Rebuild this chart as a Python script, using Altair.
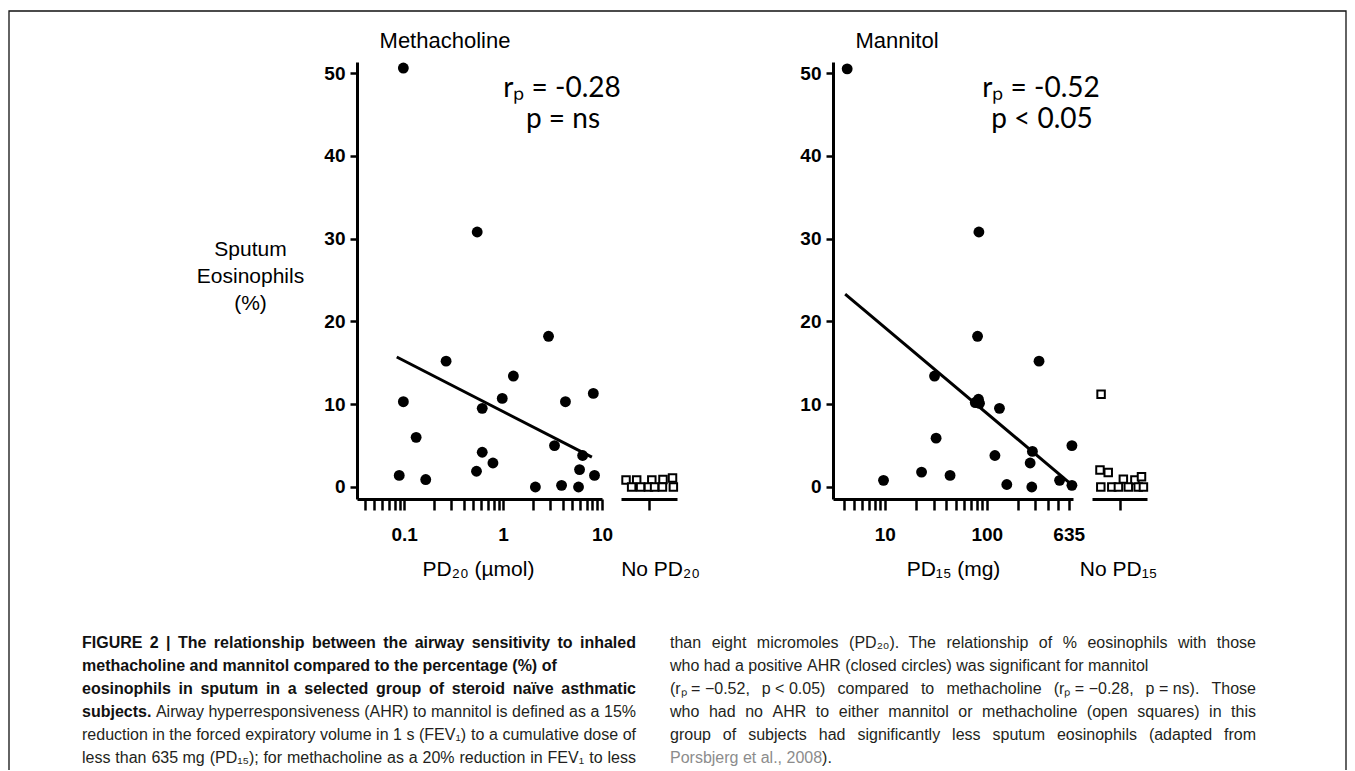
import altair as alt
import pandas as pd

# ---------------- data ----------------
# Methacholine panel (closed circles): PD20 (umol) vs sputum eosinophils (%)
meth_pd20 = [0.098, 0.547, 0.089, 0.098, 0.132, 0.165, 0.265, 0.538, 0.615, 0.615,
             0.789, 0.98, 1.27, 2.12, 2.88, 3.31, 3.90, 4.27, 5.79, 5.93, 6.37, 8.17, 8.4]
meth_eos = [50.6, 30.8, 1.4, 10.3, 6.0, 0.9, 15.2, 1.9, 9.5, 4.2,
            2.9, 10.7, 13.4, 0.0, 18.2, 5.0, 0.2, 10.3, 0.0, 2.1, 3.8, 11.3, 1.4]
meth_fit_pd20 = [0.084, 7.9]
meth_fit_eos = [15.7, 3.6]
# "No PD20" group (open squares): spread within the group, eosinophils (%)
meth_none_spread = [-0.82, -0.44, 0.1, 0.5, 0.84, -0.62, -0.3, -0.02, 0.2, 0.48, 0.87]
meth_none_eos = [0.85, 0.85, 0.85, 0.9, 1.1, 0, 0, 0, 0, 0, 0]

# Mannitol panel (closed circles): PD15 (mg) vs sputum eosinophils (%)
mann_pd15 = [4.27, 83.6, 9.7, 22.9, 30.7, 31.8, 43.6, 81.1, 77, 82.8, 84.8,
             120, 133, 157, 266, 276, 280, 325, 517, 683, 683]
mann_eos = [50.5, 30.8, 0.8, 1.8, 13.4, 5.9, 1.4, 18.2, 10.2, 10.6, 10.1,
            3.8, 9.5, 0.3, 2.9, 0.0, 4.3, 15.2, 0.8, 5.0, 0.2]
mann_fit_pd15 = [4.08, 647]
mann_fit_eos = [23.3, 0.5]
mann_none_spread = [-0.67, -0.71, -0.41, 0.14, 0.56, 0.8, -0.68, -0.28, -0.04, 0.32, 0.68, 0.87]
mann_none_eos = [11.2, 2.05, 1.75, 0.95, 0.85, 1.25, 0, 0, 0, 0, 0, 0]

# axes
y_ticks = [0, 10, 20, 30, 40, 50]
meth_ticks = [0.04, 0.05, 0.06, 0.07, 0.08, 0.09, 0.1, 0.2, 0.3, 0.4, 0.5, 0.6, 0.7,
              0.8, 0.9, 1, 2, 3, 4, 5, 6, 7, 8, 9, 10]
meth_label_values = [0.1, 1, 10]
meth_label_texts = ["0.1", "1", "10"]
mann_ticks = [4, 5, 6, 7, 8, 9, 10, 20, 30, 40, 50, 60, 70, 80, 90, 100, 200, 300, 400, 500, 635]
mann_label_values = [10, 100, 635]
mann_label_texts = ["10", "100", "635"]

# texts
panel_titles = ["Methacholine", "Mannitol"]
stats_meth = ["rₚ = -0.28", "p = ns"]
stats_mann = ["rₚ = -0.52", "p < 0.05"]
y_title = ["Sputum", "Eosinophils", "(%)"]
x_titles = ["PD₂₀ (µmol)", "No PD₂₀", "PD₁₅ (mg)", "No PD₁₅"]

NB = "\u00a0"  # non-breaking space keeps short expressions together
# caption: each line is a list of (weight, colour-role, text) runs, plus a justify flag
caption_left = [
    ([("bold", "strong", "FIGURE 2 | The relationship between the airway sensitivity to inhaled")], True),
    ([("bold", "strong", "methacholine and mannitol compared to the percentage (%) of")], False),
    ([("bold", "strong", "eosinophils in sputum in a selected group of steroid naïve asthmatic")], True),
    ([("bold", "strong", "subjects."),
      ("normal", "body", "Airway hyperresponsiveness (AHR) to mannitol is defined as a 15%")], True),
    ([("normal", "body", "reduction in the forced expiratory volume in 1" + NB + "s (FEV₁) to a cumulative dose of")], True),
    ([("normal", "body", "less than 635" + NB + "mg (PD₁₅); for methacholine as a 20% reduction in FEV₁ to less")], True),
]
caption_right = [
    ([("normal", "body", "than eight micromoles (PD₂₀). The relationship of % eosinophils with those")], True),
    ([("normal", "body", "who had a positive AHR (closed circles) was significant for mannitol")], False),
    ([("normal", "body", f"(rₚ{NB}={NB}−0.52, p{NB}<{NB}0.05) compared to methacholine "
                         f"(rₚ{NB}={NB}−0.28, p{NB}={NB}ns). Those")], True),
    ([("normal", "body", "who had no AHR to either mannitol or methacholine (open squares) in this")], True),
    ([("normal", "body", "group of subjects had significantly less sputum eosinophils (adapted from")], True),
    ([("normal", "link", "Porsbjerg et al., 2008"), ("normal", "body", ").")], False),
]

# ---------------- layout (pixels) ----------------
PAD_L = 349
W = 990
H = 491
PAD_B = 271
Y_DOMAIN = [-1.45, 51.33]
Y_RANGE = [491, 54]
L_DOMAIN = [0.0333, 10]
L_RANGE = [0, 245]
NL_RANGE = [264, 320]
R_DOMAIN = [3.1, 700]
R_RANGE = [476, 716]
NR_RANGE = [735, 790]
N_DOMAIN = [-1, 1]

FONT = "Liberation Sans"
CAP_SIZE = 16
LEFT_X, LEFT_END = -275, 279
RIGHT_X, RIGHT_END = 313, 899
BASE_Y, STEP = 640, 23
COLORS = {"strong": "#111111", "body": "#231f20", "link": "#8c8c8c"}

# Arial / Liberation Sans advance widths (1/1000 em) used to lay out justified caption lines
REG = {' ': 278, NB: 278, '%': 889, '(': 333, ')': 333, ',': 278, '-': 333, '.': 278, ':': 278,
       ';': 278, '<': 584, '=': 584, '>': 584, '|': 260, '−': 584, 'µ': 556, 'ï': 278,
       'A': 667, 'B': 667, 'C': 722, 'D': 722, 'E': 667, 'F': 611, 'G': 778, 'H': 722, 'I': 278,
       'J': 500, 'K': 667, 'L': 556, 'M': 833, 'N': 722, 'O': 778, 'P': 667, 'Q': 778, 'R': 722,
       'S': 667, 'T': 611, 'U': 722, 'V': 667, 'W': 944, 'X': 667, 'Y': 667, 'Z': 611,
       'a': 556, 'b': 556, 'c': 500, 'd': 556, 'e': 556, 'f': 278, 'g': 556, 'h': 556, 'i': 222,
       'j': 222, 'k': 500, 'l': 222, 'm': 833, 'n': 556, 'o': 556, 'p': 556, 'q': 556, 'r': 333,
       's': 500, 't': 278, 'u': 556, 'v': 500, 'w': 722, 'x': 500, 'y': 500, 'z': 500}
BOLD = {' ': 278, NB: 278, '%': 889, '(': 333, ')': 333, ',': 278, '.': 278, '|': 280, '-': 333,
        'ï': 278,
        'A': 722, 'B': 722, 'C': 722, 'D': 722, 'E': 667, 'F': 611, 'G': 778, 'H': 722, 'I': 278,
        'J': 556, 'K': 722, 'L': 611, 'M': 833, 'N': 722, 'O': 778, 'P': 667, 'Q': 778, 'R': 722,
        'S': 667, 'T': 611, 'U': 722, 'V': 667, 'W': 944, 'X': 667, 'Y': 667, 'Z': 611,
        'a': 556, 'b': 611, 'c': 556, 'd': 611, 'e': 556, 'f': 333, 'g': 611, 'h': 611, 'i': 278,
        'j': 278, 'k': 556, 'l': 278, 'm': 889, 'n': 611, 'o': 611, 'p': 611, 'q': 611, 'r': 389,
        's': 556, 't': 333, 'u': 611, 'v': 556, 'w': 778, 'x': 556, 'y': 556, 'z': 500}
SUBS = "₀₁₂₃₄₅₆₇₈₉ₚ"


def text_width(s, weight, size):
    table = BOLD if weight == "bold" else REG
    total = 0
    for ch in s:
        if ch in SUBS:
            total += 360
        elif ch.isdigit():
            total += 556
        else:
            total += table.get(ch, 556)
    return total * size / 1000.0


def layout_lines(lines, x0, x_end, y0):
    rows = []
    for i, (runs, justify) in enumerate(lines):
        words = []
        for weight, role, txt in runs:
            for w in txt.split(" "):
                words.append((weight, role, w))
        widths = [text_width(w, wt, CAP_SIZE) for wt, _, w in words]
        space = text_width(" ", "normal", CAP_SIZE)
        if justify and len(words) > 1:
            gap = (x_end - x0 - sum(widths)) / (len(words) - 1)
        else:
            gap = space
        x = x0
        for k, ((wt, role, w), wd) in enumerate(zip(words, widths)):
            rows.append({"word": w, "px": x, "py": y0 + i * STEP, "weight": wt, "role": role})
            x += wd
            # runs glued together with no space (the closing ")." after the reference)
            if k + 1 < len(words) and words[k + 1][2].startswith(")") and words[k + 1][1] != role:
                continue
            x += gap
    return rows


def label_expr(vals, texts):
    parts = [f"datum.value == {v} ? '{t}'" for v, t in zip(vals, texts)]
    return " : ".join(parts) + " : ''"


yscale = alt.Scale(domain=Y_DOMAIN, range=Y_RANGE, nice=False, zero=False)

common_x_axis = dict(tickSize=11, tickWidth=2.5, domainWidth=3, labelFontSize=19,
                     labelFontWeight="bold", labelPadding=15, titleFontSize=21,
                     titleFontWeight="normal", titleY=76, titleBaseline="alphabetic",
                     titleAlign="center", orient="bottom", grid=False)


def y_axis(offset, title):
    kw = dict(values=y_ticks, tickSize=7, tickWidth=2.5, domainWidth=3, labelFontSize=19,
              labelFontWeight="bold", labelPadding=5, orient="left", offset=offset,
              grid=False)
    if title:
        kw.update(title=title, titleAngle=0, titleX=-107, titleY=247, titleAlign="center",
                  titleBaseline="alphabetic", titleFontSize=21, titleFontWeight="normal",
                  titleLineHeight=27)
    else:
        kw.update(title="")
    return alt.Axis(**kw)


def panel(xs, ys, fit_x, fit_y, none_x, none_y, dom, rng, nrng, ticks, lvals, ltexts,
          xtitle, ntitle, ntitle_x, ytitle, yoffset, xtitle_x):
    pts = pd.DataFrame({"dose": xs, "eos": ys})
    fit = pd.DataFrame({"dose": fit_x, "eos": fit_y})
    none = pd.DataFrame({"spread": none_x, "eos": none_y})
    xscale = alt.Scale(type="log", domain=dom, range=rng, nice=False)
    circles = alt.Chart(pts).mark_circle(size=118, color="black", opacity=1).encode(
        x=alt.X("dose:Q", scale=xscale,
                axis=alt.Axis(values=ticks, labelExpr=label_expr(lvals, ltexts),
                              title=xtitle, titleX=xtitle_x, **common_x_axis)),
        y=alt.Y("eos:Q", scale=yscale, axis=y_axis(yoffset, ytitle)),
    )
    line = alt.Chart(fit).mark_line(color="black", strokeWidth=3).encode(
        x=alt.X("dose:Q", scale=xscale, axis=None),
        y=alt.Y("eos:Q", scale=yscale, axis=None),
    )
    squares = alt.Chart(none).mark_point(shape="square", size=56, filled=True, fill="white",
                                         stroke="black", strokeWidth=2, opacity=1).encode(
        x=alt.X("spread:Q", scale=alt.Scale(domain=N_DOMAIN, range=nrng, nice=False, zero=False),
                axis=alt.Axis(values=[0], labels=False, title=ntitle, titleX=ntitle_x,
                              **common_x_axis)),
        y=alt.Y("eos:Q", scale=yscale, axis=None),
    )
    return [circles, line, squares]


def text_at(txt, x, y, size, font=FONT, weight="normal", color="black", align="center"):
    return alt.Chart(pd.DataFrame({"t": [txt]})).mark_text(
        font=font, fontSize=size, fontWeight=weight, color=color, align=align,
        baseline="alphabetic").encode(x=alt.value(x), y=alt.value(y), text="t:N")


layers = []
border = alt.Chart(pd.DataFrame({"a": [0]})).mark_rect(
    fillOpacity=0, stroke="#111111", strokeWidth=1.3).encode(
    x=alt.value(-348), x2=alt.value(989), y=alt.value(3), y2=alt.value(800))
layers.append(border)

layers += panel(meth_pd20, meth_eos, meth_fit_pd20, meth_fit_eos, meth_none_spread, meth_none_eos,
                L_DOMAIN, L_RANGE, NL_RANGE, meth_ticks, meth_label_values, meth_label_texts,
                x_titles[0], x_titles[1], 303, y_title, 0, 121)
layers += panel(mann_pd15, mann_eos, mann_fit_pd15, mann_fit_eos, mann_none_spread, mann_none_eos,
                R_DOMAIN, R_RANGE, NR_RANGE, mann_ticks, mann_label_values, mann_label_texts,
                x_titles[2], x_titles[3], 761, None, -476, 596)

# panel titles
layers.append(text_at(panel_titles[0], 88, 40, 22))
layers.append(text_at(panel_titles[1], 540, 40, 22))
# statistics
layers.append(text_at(stats_meth[0], 205, 89, 28, font="Lato"))
layers.append(text_at(stats_meth[1], 206, 120, 28, font="Lato"))
layers.append(text_at(stats_mann[0], 684, 89, 28, font="Lato"))
layers.append(text_at(stats_mann[1], 685, 120, 28, font="Lato"))

# caption (word-by-word, justified like the journal layout)
cap_rows = layout_lines(caption_left, LEFT_X, LEFT_END, BASE_Y) + \
    layout_lines(caption_right, RIGHT_X, RIGHT_END, BASE_Y)
cap = pd.DataFrame(cap_rows)
for (weight, role), grp in cap.groupby(["weight", "role"]):
    layers.append(
        alt.Chart(grp).mark_text(font=FONT, fontSize=CAP_SIZE, fontWeight=weight,
                                 color=COLORS[role], align="left", baseline="alphabetic").encode(
            x=alt.X("px:Q", scale=None, axis=None),
            y=alt.Y("py:Q", scale=None, axis=None),
            text="word:N")
    )

chart = alt.layer(*layers).resolve_scale(x="independent", y="independent").properties(
    width=W, height=H,
    padding={"left": PAD_L, "top": 0, "right": 0, "bottom": PAD_B},
    autosize=alt.AutoSizeParams(type="none"),
    background="white",
).configure_view(strokeWidth=0).configure_axis(
    domainColor="black", tickColor="black", labelColor="black", titleColor="black",
    labelFont=FONT, titleFont=FONT, labelOverlap=False, labelFlush=False,
)

chart.save("out.html", embed_options={"renderer": "svg", "actions": False})
